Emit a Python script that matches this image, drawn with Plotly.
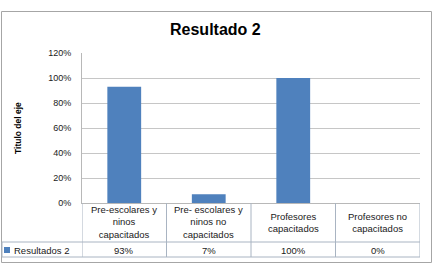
import plotly.graph_objects as go

# ---- data ----
categories = ["Pre-escolares y ninos capacitados", "Pre- escolares y ninos no capacitados",
              "Profesores capacitados", "Profesores no capacitados"]
category_labels = ["Pre-escolares y<br>ninos<br>capacitados", "Pre- escolares y<br>ninos no<br>capacitados",
                   "Profesores<br>capacitados", "Profesores no<br>capacitados"]
values = [0.93, 0.07, 1.00, 0.00]
series_name = "Resultados 2"
title_text = "Resultado 2"
y_title = "Titulo del eje"

W, H = 434, 265
L, R, T, B = 82, 420, 53, 203  # plot area pixels


def px(x):
    return (x - L) / (R - L)


def py(y):
    return (B - y) / (B - T)


BAR = "#4F81BD"
GRID = "#C6C6C6"
AXIS = "#B8B8B8"
TBL = "#A9B4C2"
FONT = "Liberation Sans"
TXT = "#1a1a1a"

fig = go.Figure()
fig.add_trace(go.Bar(x=list(range(len(categories))), y=values, name=series_name,
                     marker=dict(color=BAR, line=dict(width=0)), width=0.4,
                     hovertext=categories))

shapes = []
annotations = []

# table geometry
row1_bottom = 242
row2_bottom = 257
n = len(categories)
for i in range(n + 1):
    shapes.append(dict(type="line", xref="x", yref="paper", x0=i - 0.5, x1=i - 0.5,
                       y0=py(B), y1=py(row2_bottom), line=dict(color=TBL, width=1)))
shapes.append(dict(type="line", xref="paper", yref="paper", x0=px(2), x1=1,
                   y0=py(row1_bottom), y1=py(row1_bottom), line=dict(color=TBL, width=1)))
shapes.append(dict(type="line", xref="paper", yref="paper", x0=px(2), x1=1,
                   y0=py(row2_bottom), y1=py(row2_bottom), line=dict(color=TBL, width=1)))
shapes.append(dict(type="line", xref="paper", yref="paper", x0=px(2), x1=px(2),
                   y0=py(row1_bottom), y1=py(row2_bottom), line=dict(color=TBL, width=1)))
# legend key
shapes.append(dict(type="rect", xref="paper", yref="paper", x0=px(4), x1=px(10),
                   y0=py(253), y1=py(247), fillcolor=BAR, line=dict(width=0)))
# outer border
shapes.append(dict(type="rect", xref="paper", yref="paper", x0=px(1.5), x1=px(431.5),
                   y0=py(262.5), y1=py(11.5),
                   line=dict(color="#A6A6A6", width=1), layer="below"))

for i, lab in enumerate(category_labels):
    annotations.append(dict(x=i, y=py((B + row1_bottom) / 2), xref="x", yref="paper",
                            text=lab, showarrow=False, font=dict(family=FONT, size=9.5, color=TXT),
                            align="center", xanchor="center", yanchor="middle"))
    annotations.append(dict(x=i, y=py((row1_bottom + row2_bottom) / 2 + 0.5), xref="x", yref="paper",
                            text=f"{values[i]*100:.0f}%", showarrow=False,
                            font=dict(family=FONT, size=9.5, color=TXT),
                            xanchor="center", yanchor="middle"))
annotations.append(dict(x=px(12), y=py(250), xref="paper", yref="paper", text=series_name,
                        showarrow=False, font=dict(family=FONT, size=9.5, color=TXT),
                        xanchor="left", yanchor="middle"))
annotations.append(dict(x=px(215), y=py(29), xref="paper", yref="paper", text=f"<b>{title_text}</b>",
                        showarrow=False, font=dict(family=FONT, size=16, color="#000"),
                        xanchor="center", yanchor="middle"))
annotations.append(dict(x=px(18), y=py(128), xref="paper", yref="paper", text=f"<b>{y_title}</b>",
                        showarrow=False, textangle=-90, font=dict(family=FONT, size=8.5, color="#000"),
                        xanchor="center", yanchor="middle"))

fig.update_layout(
    width=W, height=H,
    margin=dict(l=L, r=W - R, t=T, b=H - B),
    paper_bgcolor="white", plot_bgcolor="white",
    showlegend=False,
    shapes=shapes, annotations=annotations,
    xaxis=dict(range=[-0.5, n - 0.5], showticklabels=False, showgrid=False, zeroline=False,
               showline=True, linecolor=AXIS, linewidth=1, ticks=""),
    yaxis=dict(range=[0, 1.2], dtick=0.2, tickformat=".0%", showgrid=True, gridcolor=GRID,
               gridwidth=1, zeroline=False, showline=True, linecolor=AXIS, linewidth=1,
               ticks="", ticklabelstandoff=8,
               tickfont=dict(family=FONT, size=9, color=TXT)),
    bargap=0.6,
)

fig.write_html("out.html")
